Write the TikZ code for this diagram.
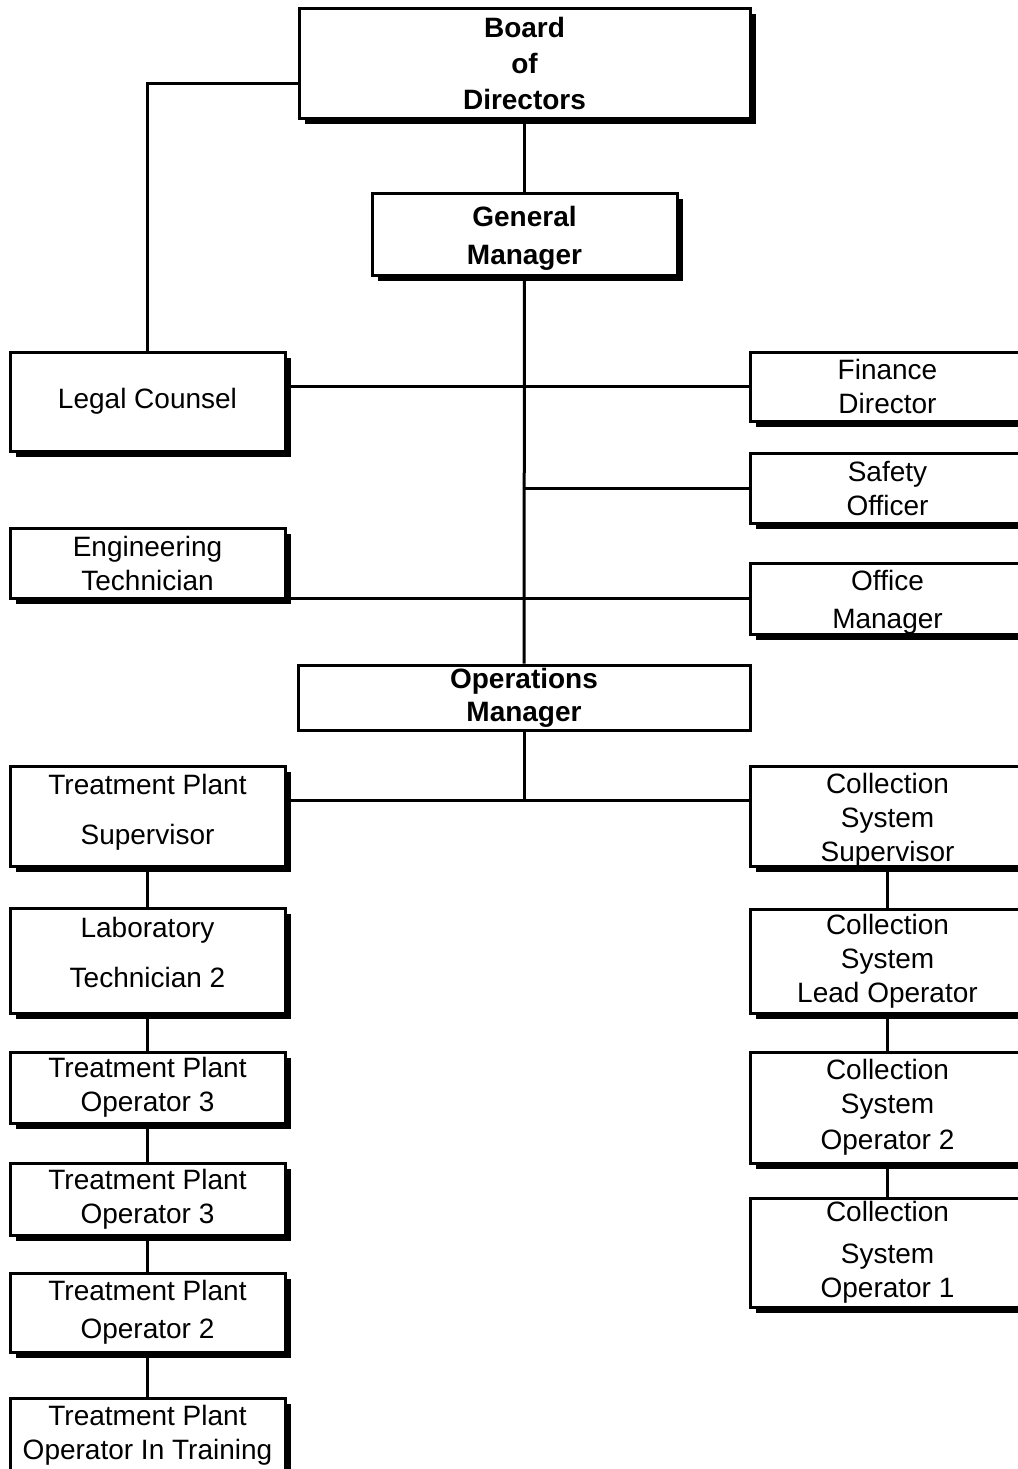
\documentclass[tikz,border=0pt]{standalone}
\usepackage{fontspec}
\setmainfont{Liberation Sans}
\usetikzlibrary{shadows}

\tikzset{
  orgbox/.style={draw, line width=1.5pt, fill=white, align=center, inner sep=0pt,
    font=\fontsize{14pt}{17pt}\selectfont,
    drop shadow={shadow xshift=2.75pt, shadow yshift=-2.75pt, fill=black, opacity=1}},
  sidebox/.style={orgbox, minimum width=137.5pt},
  link/.style={line width=1.5pt}
}

\begin{document}
\begin{tikzpicture}[x=0.5pt, y=-0.5pt]
  \useasboundingbox (0,0) rectangle (1018,1469);

  % top of the chart
  \node[orgbox, minimum width=225.5pt, minimum height=55pt, font=\fontsize{14pt}{17pt}\selectfont\bfseries]
    (board) at (524.5,63) {Board\\[1pt] of\\[1pt] Directors};
  \node[orgbox, minimum width=152.5pt, minimum height=41pt, text height=33.3pt,
    font=\fontsize{14pt}{17pt}\selectfont\bfseries]
    (gm) at (524.5,234) {General\\[2pt] Manager};

  % staff boxes
  \node[sidebox, minimum height=49.5pt] (legal) at (147.5,401.5) {Legal Counsel};
  \node[sidebox, minimum height=35pt] (eng) at (147.5,563) {Engineering\\ Technician};
  \node[sidebox, minimum height=34.5pt] (finance) at (887.5,386.5) {Finance\\ Director};
  \node[sidebox, minimum height=35pt] (safety) at (887.5,488) {Safety\\ Officer};
  \node[sidebox, minimum height=35.5pt, text height=29.9pt, text depth=0pt] (office) at (887.5,598.5) {Office\\[2pt] Manager};

  \node[draw, line width=1.5pt, fill=white, align=center, inner sep=0pt,
    minimum width=226pt, minimum height=32.5pt, font=\fontsize{14pt}{16.5pt}\selectfont\bfseries]
    (ops) at (524,697.5) {Operations\\ Manager};
  \coordinate (hub) at (524,800);

  % treatment plant column
  \node[sidebox, minimum height=50pt, text depth=7pt] (tps) at (147.5,816) {Treatment Plant\\[8pt] Supervisor};
  \node[sidebox, minimum height=52.5pt, text depth=8pt] (lab) at (147.5,960.5) {Laboratory\\[8pt] Technician 2};
  \node[sidebox, minimum height=35.5pt] (tpoa) at (147.5,1087.5) {Treatment Plant\\ Operator 3};
  \node[sidebox, minimum height=36pt] (tpob) at (147.5,1199) {Treatment Plant\\ Operator 3};
  \node[sidebox, minimum height=39.5pt] (tpoc) at (147.5,1312.5) {Treatment Plant\\[2pt] Operator 2};
  \node[sidebox, minimum height=37pt] (tpod) at (147.5,1435) {Treatment Plant\\ Operator In Training};

  % collection system column
  \node[sidebox, minimum height=50pt, text height=45.4pt, text depth=0pt] (css) at (887.5,816) {Collection\\ System\\ Supervisor};
  \node[sidebox, minimum height=52pt] (cslo) at (887.5,961) {Collection\\ System\\ Lead Operator};
  \node[sidebox, minimum height=55.5pt] (csob) at (887.5,1107.5) {Collection\\ System\\[1pt] Operator 2};
  \node[sidebox, minimum height=54.5pt] (csoa) at (887.5,1252.5) {Collection\\[4pt] System\\ Operator 1};

  % connectors
  \draw[link] (legal.north) |- ([yshift=-10pt]board.west);
  \draw[link] (board.south) -- (gm.north);
  \draw[link] (gm.south) -- (ops.north);
  \draw[link] (legal.east |- finance.west) -- (finance.west);
  \draw[link] (safety.west -| gm.south) -- (safety.west);
  \draw[link] (eng.east |- office.west) -- (office.west);
  \draw[link] (ops.south) -- (hub);
  \draw[link] (tps.east |- hub) -- (css.west |- hub);
  \draw[link] (tps.south) -- (lab.north);
  \draw[link] (lab.south) -- (tpoa.north);
  \draw[link] (tpoa.south) -- (tpob.north);
  \draw[link] (tpob.south) -- (tpoc.north);
  \draw[link] (tpoc.south) -- (tpod.north);
  \draw[link] (css.south) -- (cslo.north);
  \draw[link] (cslo.south) -- (csob.north);
  \draw[link] (csob.south) -- (csoa.north);
\end{tikzpicture}
\end{document}
